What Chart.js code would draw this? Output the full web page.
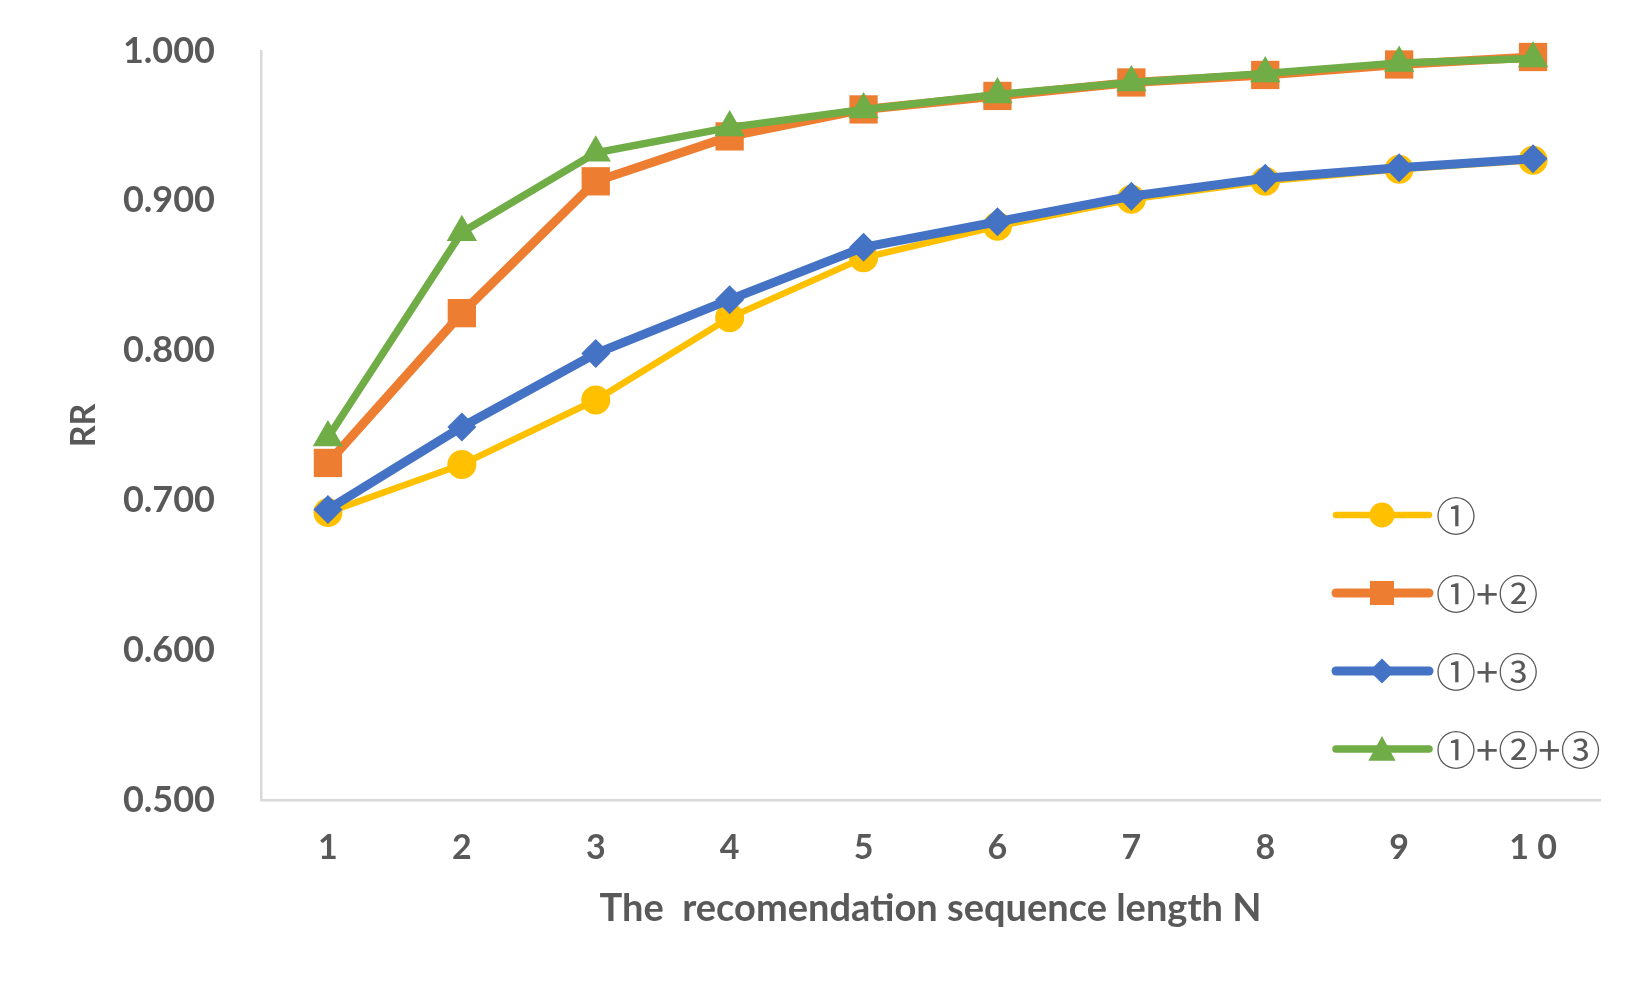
<!DOCTYPE html>
<html>
<head>
<meta charset="utf-8">
<script src="https://cdn.jsdelivr.net/npm/chart.js@4.4.1/dist/chart.umd.min.js"></script>
<style>
  html, body { margin: 0; padding: 0; background: #ffffff; }
  #wrap { width: 1650px; height: 990px; }
</style>
</head>
<body>
<div id="wrap"><canvas id="c" width="1650" height="990"></canvas></div>
<script>
// ---- data ----
const categories = ['1', '2', '3', '4', '5', '6', '7', '8', '9', '1 0'];
const seriesLabels = ['①', '①+②', '①+③', '①+②+③'];
const s1    = [0.692, 0.724, 0.767, 0.822, 0.862, 0.883, 0.901, 0.913, 0.921, 0.927];
const s12   = [0.725, 0.825, 0.913, 0.943, 0.961, 0.970, 0.979, 0.984, 0.991, 0.996];
const s13   = [0.694, 0.749, 0.798, 0.834, 0.869, 0.886, 0.903, 0.915, 0.922, 0.928];
const s123  = [0.742, 0.879, 0.932, 0.949, 0.961, 0.971, 0.979, 0.985, 0.992, 0.995];
const yTicks = [0.5, 0.6, 0.7, 0.8, 0.9, 1.0];
const xTitle = 'The  recomendation sequence length N';
const yTitle = 'RR';

// ---- styles ----
const colors = ['#FFC000', '#ED7D31', '#4472C4', '#70AD47'];
const styles = ['circle', 'rect', 'rectRot', 'triangle'];
const radii = [14.5, 20, 14.5, 17.5];
const widths = [6.5, 9, 9, 7.5];
const textColor = '#595959';
const FONT = 'Lato, "Open Sans", sans-serif';

const seriesData = [s1, s12, s13, s123];
const datasets = seriesData.map((d, i) => ({
  label: seriesLabels[i],
  data: d,
  borderColor: colors[i],
  backgroundColor: colors[i],
  borderWidth: widths[i],
  pointStyle: styles[i],
  pointRadius: radii[i],
  pointHoverRadius: radii[i],
  pointBorderWidth: 0,
  pointBackgroundColor: colors[i],
  tension: 0,
  clip: false,
  order: 4 - i
}));

function drawMarker(ctx, style, x, y, r) {
  ctx.beginPath();
  if (style === 'circle') {
    ctx.arc(x, y, r, 0, Math.PI * 2);
  } else if (style === 'rect') {
    ctx.rect(x - r, y - r, 2 * r, 2 * r);
  } else if (style === 'rectRot') {
    ctx.moveTo(x, y - r); ctx.lineTo(x + r, y); ctx.lineTo(x, y + r); ctx.lineTo(x - r, y);
  } else if (style === 'triangle') {
    ctx.moveTo(x, y - r); ctx.lineTo(x + r * 1.05, y + r * 0.9); ctx.lineTo(x - r * 1.05, y + r * 0.9);
  }
  ctx.closePath();
  ctx.fill();
}

const legendPlugin = {
  id: 'customLegend',
  afterDraw(chart) {
    const ctx = chart.ctx;
    const rows = [515, 593, 671, 749];
    const legR = [12.5, 12, 12.5, 13];
    ctx.save();
    chart.data.datasets.forEach((ds, i) => {
      const y = rows[i];
      ctx.strokeStyle = ds.borderColor;
      ctx.lineWidth = ds.borderWidth;
      ctx.lineCap = 'round';
      ctx.beginPath();
      ctx.moveTo(1336, y);
      ctx.lineTo(1429, y);
      ctx.stroke();
      ctx.fillStyle = ds.borderColor;
      drawMarker(ctx, ds.pointStyle, 1382, y, legR[i]);
      ctx.fillStyle = textColor;
      ctx.font = '40px "Noto Sans CJK JP", "DejaVu Sans", sans-serif';
      ctx.textAlign = 'left';
      ctx.textBaseline = 'middle';
      ctx.fillText(ds.label, 1436, y + 1);
    });
    ctx.restore();
  }
};

new Chart(document.getElementById('c'), {
  type: 'line',
  data: { labels: categories, datasets: datasets },
  plugins: [legendPlugin],
  options: {
    responsive: false,
    animation: false,
    devicePixelRatio: 1,
    layout: { padding: { top: 51, right: 50, bottom: 0, left: 0 } },
    plugins: {
      legend: { display: false },
      tooltip: { enabled: false }
    },
    scales: {
      x: {
        type: 'category',
        offset: true,
        grid: { display: false, drawTicks: false },
        border: { display: true, color: '#D9D9D9', width: 2.5 },
        ticks: {
          color: textColor,
          font: { family: FONT, size: 34, weight: 'bold' },
          padding: 28,
          maxRotation: 0,
          autoSkip: false
        },
        title: {
          display: true,
          text: xTitle,
          color: textColor,
          font: { family: FONT, size: 38, weight: 'bold' },
          padding: { top: 0, bottom: 58 }
        },
        afterFit(scale) { scale.height = 190; }
      },
      y: {
        min: 0.5,
        max: 1.0,
        grid: { display: false, drawTicks: false },
        border: { display: true, color: '#D9D9D9', width: 2.5 },
        afterBuildTicks(scale) { scale.ticks = yTicks.map(v => ({ value: v })); },
        ticks: {
          color: textColor,
          font: { family: FONT, size: 36, weight: 'bold' },
          padding: 46,
          callback: (v) => Number(v).toFixed(3)
        },
        title: {
          display: true,
          text: yTitle,
          color: textColor,
          font: { family: FONT, size: 34, weight: 'bold' },
          padding: { top: 64, bottom: 0 }
        },
        afterFit(scale) {
          scale.width = 261;
          scale.paddingTop = 0;
          scale.paddingBottom = 0;
        }
      }
    }
  }
});
</script>
</body>
</html>
